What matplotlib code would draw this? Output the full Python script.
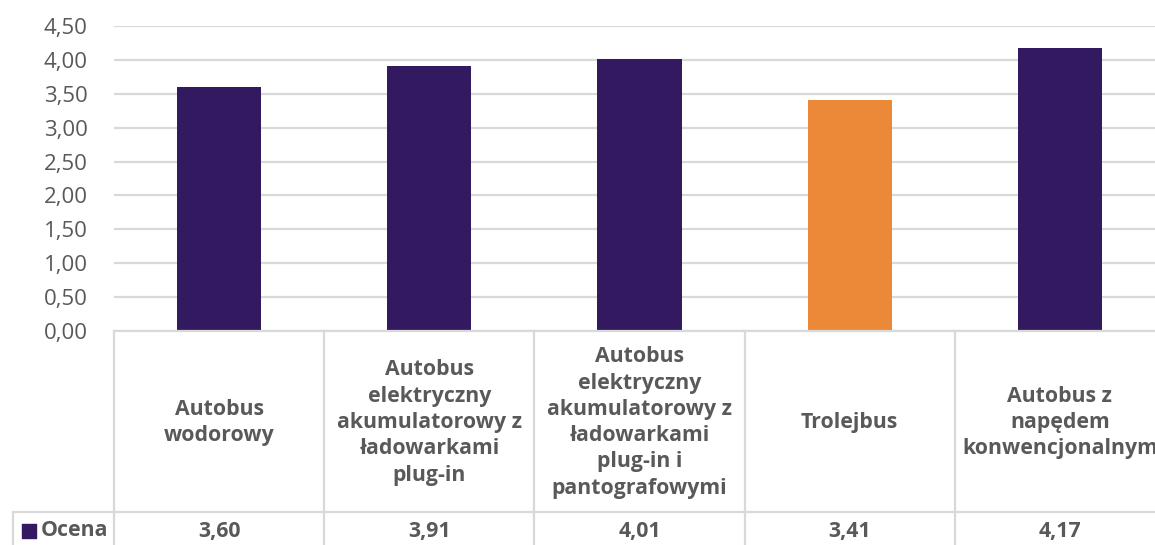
import matplotlib
matplotlib.use("Agg")
import matplotlib.pyplot as plt
from matplotlib.ticker import FuncFormatter, MultipleLocator

plt.rcParams['font.family'] = ['Open Sans', 'DejaVu Sans']

categories = [
    "Autobus\nwodorowy",
    "Autobus\nelektryczny\nakumulatorowy z\nładowarkami\nplug-in",
    "Autobus\nelektryczny\nakumulatorowy z\nładowarkami\nplug-in i\npantografowymi",
    "Trolejbus",
    "Autobus z\nnapędem\nkonwencjonalnym",
]
values = [3.60, 3.91, 4.01, 3.41, 4.17]
series_name = "Ocena"
highlight = "Trolejbus"

PURPLE = "#33195F"
ORANGE = "#EC8938"
GRID = "#D9D9D9"
TEXT = "#595959"
FS_TICK = 16
FS_TABLE = 15.3

W, H = 1155, 545
fig = plt.figure(figsize=(W / 100, H / 100), dpi=100)

# plot area in pixel terms
left_px, right_px = 114, 1165
top_px, base_px = 26, 331
ax = fig.add_axes([left_px / W, 1 - base_px / H,
                   (right_px - left_px) / W, (base_px - top_px) / H])

x = list(range(len(values)))
colors = [ORANGE if c == highlight else PURPLE for c in categories]
ax.bar(x, values, width=0.4, color=colors, zorder=3)

ax.set_xlim(-0.5, len(values) - 0.5)
ax.set_ylim(0, 4.5)
ax.yaxis.set_major_locator(MultipleLocator(0.5))
ax.yaxis.set_major_formatter(FuncFormatter(lambda v, _: f"{v:.2f}".replace(".", ",")))
ax.grid(axis="y", color=GRID, lw=1.6, zorder=0)
ax.tick_params(axis="y", length=0, pad=19, labelsize=FS_TICK, labelcolor=TEXT)
ax.tick_params(axis="x", length=0, labelbottom=False)
for s in ax.spines.values():
    s.set_visible(False)

# data table below the plot area, sharing the category x scale
tax = fig.add_axes([left_px / W, 0, (right_px - left_px) / W, (H - base_px) / H],
                   sharex=ax)
tax.set_ylim(H, base_px)
tax.axis("off")

col_w_px = (right_px - left_px) / len(values)
label_left = -0.5 - (left_px - 13) / col_w_px
row_split = 512
row_bottom = 560

line_kw = dict(color=GRID, lw=1.6, clip_on=False, zorder=1)
tax.plot([-0.5, len(values) - 0.5], [base_px, base_px], **line_kw)
tax.plot([label_left, len(values) - 0.5], [row_split, row_split], **line_kw)
tax.plot([label_left, label_left], [row_split, row_bottom], **line_kw)
for i in range(len(values) + 1):
    tax.plot([i - 0.5, i - 0.5], [base_px, row_bottom], **line_kw)

for i, (cat, val) in enumerate(zip(categories, values)):
    tax.text(i, (base_px + row_split) / 2 + 1, cat, ha="center", va="center",
             fontsize=FS_TABLE, fontweight="bold", color=TEXT, linespacing=1.33)
    tax.text(i, 531, f"{val:.2f}".replace(".", ","), ha="center", va="center",
             fontsize=FS_TABLE, fontweight="bold", color=TEXT)

# legend key for the series row
key_x = label_left + 10 / col_w_px
tax.scatter([key_x + 6 / col_w_px], [531], marker="s", s=100, color=PURPLE,
            clip_on=False, zorder=3)
tax.text(key_x + 18 / col_w_px, 531, series_name, ha="left", va="center",
         fontsize=FS_TABLE, fontweight="bold", color=TEXT)

fig.savefig("out.png", dpi=100, facecolor="white")
